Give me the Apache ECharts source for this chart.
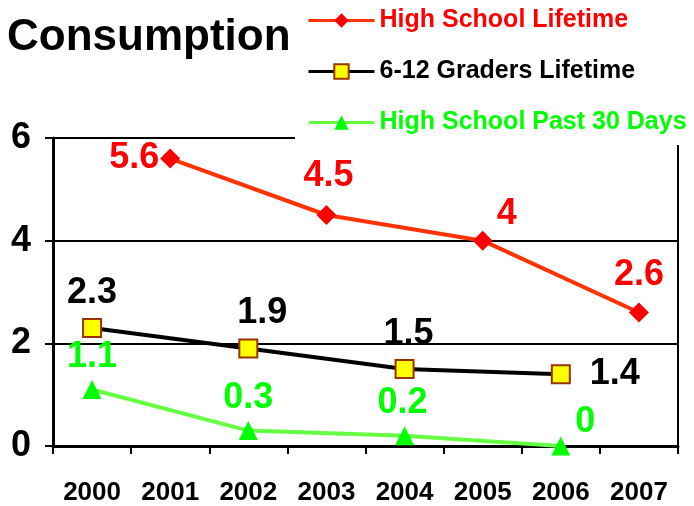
<!DOCTYPE html>
<html>
<head>
<meta charset="utf-8">
<script src="https://cdn.jsdelivr.net/npm/echarts@6/dist/echarts.min.js"></script>
<style>
  html,body{margin:0;padding:0;background:#fff;}
  #chart{width:694px;height:506px;}
</style>
</head>
<body>
<div id="chart"></div>
<script>
var years = ['2000','2001','2002','2003','2004','2005','2006','2007'];
var hsLifetime    = [null, 5.6, null, 4.5, null, 4, null, 2.6];
var gradersLife   = [2.3, null, 1.9, null, 1.5, null, 1.4, null];
var hsPast30      = [1.1, null, 0.3, null, 0.2, null, 0, null];
var seriesNames   = ['High School Lifetime','6-12 Graders Lifetime','High School Past 30 Days'];
var yTicks        = [0, 2, 4, 6];

var FONT = '"Liberation Sans",Arial,sans-serif';

// label placement per point (position, offset)
var hsLabelPos  = [null, ['left',[4,0]], null, ['top',[2,-6]], null, ['top',[24,6]], null, ['top',[0,-4]]];
var grLabelPos  = [['top',[0,-2]], null, ['top',[14,-2]], null, ['top',[4,-2]], null, ['right',[14,0]], null];
var p30LabelPos = [['top',[0,0]], null, ['top',[0,0]], null, ['top',[-2,0]], null, ['right',[0,-24]], null];

function buildData(values, pos, color){
    var out=[];
    for(var i=0;i<values.length;i++){
        if(values[i]===null){ out.push(null); continue; }
        out.push({
            value: values[i],
            label: {
                show: true,
                position: pos[i][0],
                offset: pos[i][1],
                color: color,
                fontFamily: FONT,
                fontWeight: 'bold',
                fontSize: 36
            }
        });
    }
    return out;
}

var myChart = echarts.init(document.getElementById('chart'));
var option = {
    animation: false,
    backgroundColor: '#fff',
    title: {
        text: 'Consumption',
        left: 7, top: 16, padding: 0,
        textStyle: {fontFamily: FONT, fontWeight: 'bold', fontSize: 44, color: '#000'}
    },
    legend: {
        orient: 'vertical',
        left: 295, top: 0,
        padding: [8, 20, 10, 12],
        backgroundColor: '#fff',
        itemWidth: 66, itemHeight: 18, itemGap: 26,
        lineStyle: {width: 3},
        textStyle: {fontFamily: FONT, fontWeight: 'bold', fontSize: 25},
        data: [
            {name: seriesNames[0], textStyle: {color: '#FF0000'}},
            {name: seriesNames[1], textStyle: {color: '#000000'}},
            {name: seriesNames[2], textStyle: {color: '#00FF00'}}
        ]
    },
    grid: {
        left: 53, right: 16, top: 138, bottom: 60,
        show: true, borderColor: '#000', borderWidth: 2,
        containLabel: false
    },
    xAxis: {
        type: 'category',
        data: years,
        boundaryGap: true,
        axisLine: {lineStyle: {color: '#000', width: 3}},
        axisTick: {show: true, length: 8, lineStyle: {color: '#000', width: 2}},
        axisLabel: {interval: 0, margin: 34, color: '#000', fontFamily: FONT, fontWeight: 'bold', fontSize: 26}
    },
    yAxis: {
        type: 'value',
        min: yTicks[0], max: yTicks[yTicks.length-1], interval: 2,
        axisLine: {show: true, lineStyle: {color: '#000', width: 3}},
        axisTick: {show: true, length: 8, lineStyle: {color: '#000', width: 2}},
        splitLine: {show: true, lineStyle: {color: '#000', width: 2}},
        axisLabel: {margin: 22, color: '#000', fontFamily: FONT, fontWeight: 'bold', fontSize: 36}
    },
    series: [
        {
            name: seriesNames[0], type: 'line', connectNulls: true, clip: false,
            symbol: 'diamond', symbolSize: 20,
            itemStyle: {color: '#FF0000'},
            lineStyle: {color: '#FF3300', width: 4},
            data: buildData(hsLifetime, hsLabelPos, '#FF0000')
        },
        {
            name: seriesNames[1], type: 'line', connectNulls: true, clip: false,
            symbol: 'rect', symbolSize: 18,
            itemStyle: {color: '#FFFF00', borderColor: '#993300', borderWidth: 2},
            lineStyle: {color: '#000000', width: 4},
            data: buildData(gradersLife, grLabelPos, '#000000')
        },
        {
            name: seriesNames[2], type: 'line', connectNulls: true, clip: false,
            symbol: 'triangle', symbolSize: 19,
            itemStyle: {color: '#00FF00'},
            lineStyle: {color: '#66FF44', width: 4},
            data: buildData(hsPast30, p30LabelPos, '#00FF00')
        }
    ]
};
myChart.setOption(option);
</script>
</body>
</html>
